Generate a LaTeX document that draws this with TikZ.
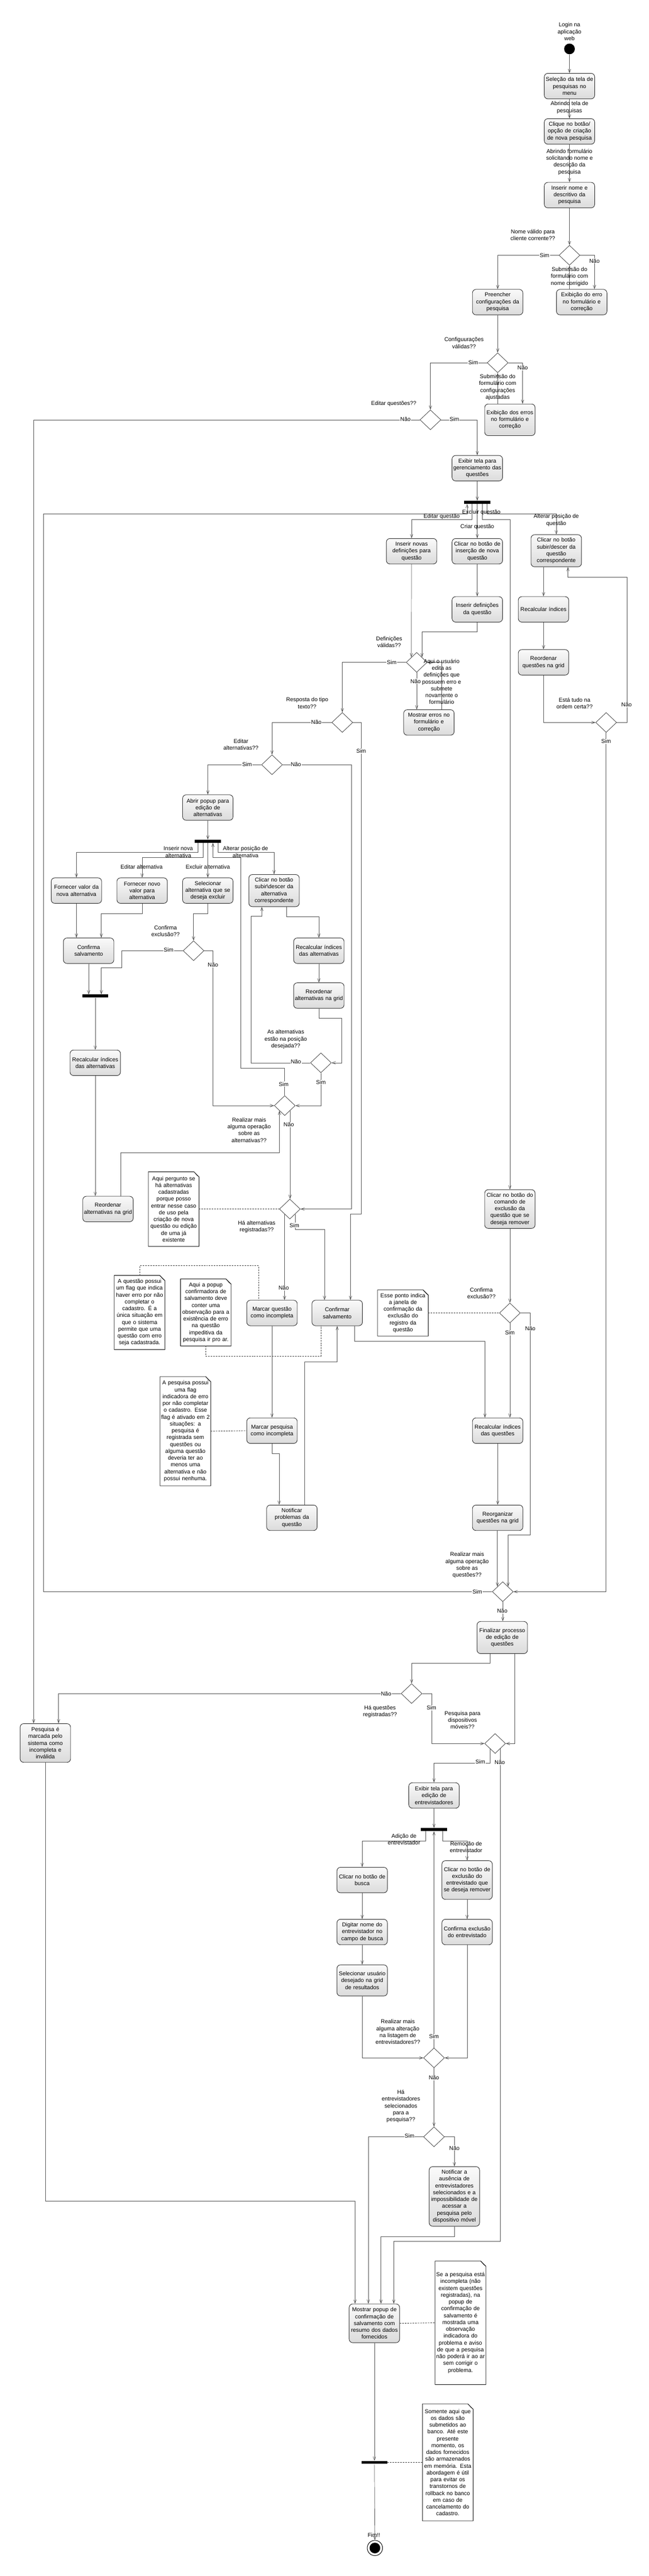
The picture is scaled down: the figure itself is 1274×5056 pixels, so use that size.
\nonstopmode
\documentclass[tikz,border=0pt]{standalone}
\usepackage{fontspec}
\setmainfont{Liberation Sans}
\usetikzlibrary{shapes.geometric,arrows.meta}
\newcommand\dfont{\fontsize{11}{13.4}\selectfont}
\newcommand\mynote[1]{%
  \draw[line width=0.8pt] (#1.north west) -- ([xshift=-10pt]#1.north east) -- ([yshift=-10pt]#1.north east) -- (#1.south east) -- (#1.south west) -- cycle;
  \draw[line width=0.6pt] ([xshift=-10pt]#1.north east) -- ([xshift=-4pt,yshift=-7pt]#1.north east) -- ([yshift=-10pt]#1.north east);}
\tikzset{
 act/.style={rectangle, rounded corners=7pt, draw=black!85, line width=0.9pt, top color=black!2, bottom color=black!14, minimum width=99pt, minimum height=50pt, text width=97pt, align=center, inner sep=1pt, font=\dfont},
 dec/.style={diamond, draw=black!85, line width=0.7pt, fill=white, minimum width=41pt, minimum height=39pt, inner sep=0pt},
 forkbar/.style={rectangle, fill=black, minimum width=51pt, minimum height=6pt, inner sep=0pt},
 lbl/.style={align=center, inner sep=1pt, font=\dfont},
 yn/.style={inner sep=1pt, fill=white, font=\dfont},
 notebox/.style={rectangle, minimum width=99pt, text width=97pt, align=center, inner sep=1pt, font=\dfont, fill=white},
 flow/.style={draw=black!70, line width=0.7pt, -{Straight Barb[length=7pt,width=5pt]}},
 anchorline/.style={draw=black!80, line width=0.9pt, densely dashed},
}
\begin{document}
\begin{tikzpicture}[x=1pt,y=-1pt]
\useasboundingbox (0,0) rectangle (1274,5056);
% ---------- nodes ----------
\node[lbl] (login) at (1118,62) {Login na\\aplicação\\web};
\node[circle, fill=black, minimum size=21pt, inner sep=0pt] (ini) at (1118,96) {};
\node[act] (a1) at (1118,169) {Seleção da tela de\\pesquisas no\\menu};
\node[act] (a2) at (1118,258) {Clique no botão/\\opção de criação\\de nova pesquisa};
\node[act] (a3) at (1118,383) {Inserir nome e\\descritivo da\\pesquisa};
\node[dec] (d1) at (1118,501) {};
\node[act] (a4) at (977,593) {Preencher\\configurações da\\pesquisa};
\node[act] (a5) at (1142,593) {Exibição do erro\\no formulário e\\correção};
\node[dec] (d2) at (977,712) {};
\node[act, minimum height=62pt] (a6) at (1001,824) {Exibição dos erros\\no formulário e\\correção};
\node[dec] (d3) at (845,824) {};
\node[act] (a7) at (937,919) {Exibir tela para\\gerenciamento das\\questões};
\node[forkbar] (f1) at (937,986) {};
\node[act] (a8) at (808,1082) {Inserir novas\\definições para\\questão};
\node[act] (a9) at (937,1082) {Clicar no botão de\\inserção de nova\\questão};
\node[act, minimum height=63pt] (a10) at (1092,1081) {Clicar no botão\\subir/descer da\\questão\\correspondente};
\node[act] (a11) at (937,1196) {Inserir definições\\da questão};
\node[act] (a12) at (1067,1196) {Recalcular índices};
\node[dec] (d4) at (818,1300) {};
\node[act] (a13) at (842,1418) {Mostrar erros no\\formulário e\\correção};
\node[act] (a14) at (1067,1300) {Reordenar\\questões na grid};
\node[dec] (d5) at (672,1418) {};
\node[dec] (dord) at (1190,1418) {};
\node[dec] (d6) at (534,1501) {};
\node[act] (a15) at (408,1585) {Abrir popup para\\edição de\\alternativas};
\node[forkbar] (f2) at (408,1651) {};
\node[act] (a16) at (150,1748) {Fornecer valor da\\nova alternativa};
\node[act] (a17) at (279,1748) {Fornecer novo\\valor para\\alternativa};
\node[act] (a18) at (408,1748) {Selecionar\\alternativa que se\\deseja excluir};
\node[act, minimum height=63pt] (a19) at (538,1748) {Clicar no botão\\subir\textbackslash descer da\\alternativa\\correspondente};
\node[act] (a20) at (174,1866) {Confirma\\salvamento};
\node[dec] (d7) at (380,1866) {};
\node[act] (a21) at (626,1866) {Recalcular índices\\das alternativas};
\node[forkbar] (f3) at (187,1955) {};
\node[act] (a22) at (626,1954) {Reordenar\\alternativas na grid};
\node[act] (a23) at (187,2086) {Recalcular índices\\das alternativas};
\node[dec] (d9) at (630,2086) {};
\node[dec] (d8) at (559,2170) {};
\node[act] (a24) at (212,2373) {Reordenar\\alternativas na grid};
\node[dec] (dha) at (569,2373) {};
\node[act, minimum height=76pt] (a25) at (1001,2373) {Clicar no botão do\\comando de\\exclusão da\\questão que se\\deseja remover};
\node[act] (a26) at (534,2577) {Marcar questão\\como incompleta};
\node[act] (a27) at (662,2577) {Confirmar\\salvamento};
\node[dec] (d10) at (1001,2577) {};
\node[act] (a28) at (534,2808) {Marcar pesquisa\\como incompleta};
\node[act] (a29) at (977,2808) {Recalcular índices\\das questões};
\node[act] (a30) at (573,2979) {Notificar\\problemas da\\questão};
\node[act] (a31) at (977,2979) {Reorganizar\\questões na grid};
\node[dec] (d11) at (987,3124) {};
\node[act, minimum height=63pt] (a32) at (986,3214) {Finalizar processo\\de edição de\\questões};
\node[dec] (d12) at (808,3324) {};
\node[act, minimum height=76pt] (a33) at (89,3421) {Pesquisa é\\marcada pelo\\sistema como\\incompleta e\\inválida};
\node[dec] (d13) at (972,3422) {};
\node[act] (a34) at (852,3524) {Exibir tela para\\edição de\\entrevistadores};
\node[forkbar] (f4) at (852,3591) {};
\node[act] (a35) at (711,3690) {Clicar no botão de\\busca};
\node[act, minimum height=76pt] (a36) at (917,3690) {Clicar no botão de\\exclusão do\\entrevistado que\\se deseja remover};
\node[act] (a37) at (711,3792) {Digitar nome do\\entrevistador no\\campo de busca};
\node[act] (a38) at (917,3792) {Confirma exclusão\\do entrevistado};
\node[act, minimum height=61pt] (a39) at (711,3887) {Selecionar usuário\\desejado na grid\\de resultados};
\node[dec] (d14) at (852,4039) {};
\node[dec] (d15) at (852,4194) {};
\node[act, minimum height=117pt] (a40) at (892,4311) {Notificar a\\ausência de\\entrevistadores\\selecionados e a\\impossibilidade de\\acessar a\\pesquisa pelo\\dispositivo móvel};
\node[act, minimum height=76pt] (a41) at (735,4560) {Mostrar popup de\\confirmação de\\salvamento com\\resumo dos dados\\fornecidos};
\node[forkbar] (f5) at (735,4833) {};
\node[circle, draw, line width=1pt, minimum size=30pt, inner sep=0pt] (fim) at (736,5001) {};
\node[circle, fill=black, minimum size=21pt, inner sep=0pt] (fimin) at (736,5001) {};
% ---------- notes ----------
\node[notebox, minimum height=146pt] (n1) at (341,2373) {Aqui pergunto se\\há alternativas\\cadastradas\\porque posso\\entrar nesse caso\\de uso pela\\criação de nova\\questão ou edição\\de uma já\\existente};
\mynote{n1}
\node[notebox, minimum height=145pt] (n2) at (274,2576) {A questão possui\\um flag que indica\\haver erro por não\\completar o\\cadastro. É a\\única situação em\\que o sistema\\permite que uma\\questão com erro\\seja cadastrada.};
\mynote{n2}
\node[notebox, minimum height=131pt] (n3) at (404,2576) {Aqui a popup\\confirmadora de\\salvamento deve\\conter uma\\observação para a\\existência de erro\\na questão\\impeditiva da\\pesquisa ir pro ar.};
\mynote{n3}
\node[notebox, minimum height=214pt] (n4) at (364,2809) {A pesquisa possui\\uma flag\\indicadora de erro\\por não completar\\o cadastro. Esse\\flag é ativado em 2\\situações: a\\pesquisa é\\registrada sem\\questões ou\\alguma questão\\deveria ter ao\\menos uma\\alternativa e não\\possui nenhuma.};
\mynote{n4}
\node[notebox, minimum height=90pt] (n5) at (791,2577) {Esse ponto indica\\a janela de\\confirmação da\\exclusão do\\registro da\\questão};
\mynote{n5}
\node[notebox, minimum height=242pt] (n6) at (904,4559) {Se a pesquisa está\\incompleta (não\\existem questões\\registradas), na\\popup de\\confirmação de\\salvamento é\\mostrada uma\\observação\\indicadora do\\problema e aviso\\de que a pesquisa\\não poderá ir ao ar\\sem corrigir o\\problema.};
\mynote{n6}
\node[notebox, minimum height=229pt] (n7) at (879,4833) {Somente aqui que\\os dados são\\submetidos ao\\banco. Até este\\presente\\momento, os\\dados fornecidos\\são armazenados\\em memória. Esta\\abordagem é útil\\para evitar os\\transtornos de\\rollback no banco\\em caso de\\cancelamento do\\cadastro.};
\mynote{n7}
% ---------- connectors ----------
\draw[flow] (ini) -- (a1);
\draw[flow] (a1) -- (a2);
\draw[flow] (a2) -- (a3);
\draw[flow] (a3) -- (d1);
\draw[flow] (d1.west) -| (a4.north);
\draw[flow] (d1.east) -| ([xshift=25pt]a5.north);
\draw[flow] ([xshift=-24pt]a5.north) -- (d1.south);
\draw[flow] (a4) -- (d2);
\draw[flow] (d2.west) -| (d3.north);
\draw[flow] (d2.east) -| ([xshift=25pt]a6.north);
\draw[flow] ([xshift=-24pt]a6.north) -- (d2.south);
\draw[flow] (d3.west) -| ([xshift=-23pt]a33.north);
\draw[flow] (d3.east) -| (a7.north);
\draw[flow] (a7) -- (f1);
\draw[flow] ([xshift=-10pt]f1.south) -- ++(0,30) -| (a8.north);
\draw[flow] (f1.south) -- (a9.north);
\draw[flow] ([xshift=10pt]f1.south) -- ++(0,30) -| (a25.north);
\draw[flow] ([xshift=19pt]f1.south) -- ++(0,19) -| (a10.north);
\coordinate (lp) at (85,1008);
\draw[flow] (d11.west) -| (lp) -| ([xshift=-20pt]f1.south);
\draw[flow] (a9) -- (a11);
\draw[flow] (a8.south) -- (d4.north west);
\draw[flow] (a11.south) -- ++(0,19) -| (d4.north east);
\draw[flow] (a10.south -| a12.north) -- (a12.north);
\draw[flow] (a12) -- (a14);
\draw[flow] (a14.south) |- (dord.west);
\draw[flow] (dord.east) -- ++(20,0) |- ([xshift=23pt,yshift=-20pt]a10.south) -- ([xshift=23pt]a10.south);
\draw[flow] (dord.south) |- (d11.east);
\draw[flow] (d4.west) -| (d5.north);
\draw[flow] (d4.south) -- (d4.south |- a13.north);
\draw[flow] ([xshift=25pt]a13.north) |- (d4.east);
\draw[flow] (d5.west) -| (d6.north);
\draw[flow] (d5.east) -| ([xshift=47pt,yshift=169pt]a27.north) -| ([xshift=26pt]a27.north);
\draw[flow] (d6.west) -| (a15.north);
\draw[flow] (d6.east) -| ([xshift=100.5pt]dha.east) -- (dha.east);
\draw[flow] (a15) -- (f2);
\draw[flow] ([xshift=-19pt]f2.south) -- ++(0,19) -| (a16.north);
\draw[flow] ([xshift=-9pt]f2.south) -- ++(0,29) -| (a17.north);
\draw[flow] (f2.south) -- (a18.north);
\draw[flow] ([xshift=20pt]f2.south) -- ++(0,19) -| (a19.north);
\draw[flow] (d8.north) |- ([xshift=65pt,yshift=-442pt]f2.south) |- ([xshift=10pt,yshift=-29pt]f2.south) -- ([xshift=10pt]f2.south);
\draw[flow] (a16.south) -- (a16.south |- a20.north);
\draw[flow] (a17.south) -- ++(0,20) -| ([xshift=25pt]a20.north);
\draw[flow] (a18.south) -- ++(0,20) -| (d7.north);
\draw[flow] (d7.west) -| ([xshift=52pt,yshift=52pt]f3.north) -| ([xshift=12pt]f3.north);
\draw[flow] (a20.south) -- (a20.south |- f3.north);
\draw[flow] (f3) -- (a23);
\draw[flow] (d7.east) -- ++(17.5,0) |- (d8.west);
\draw[flow] ([xshift=25pt]a19.south) -- ++(0,19) -| (a21.north);
\draw[flow] (a21) -- (a22);
\draw[flow] (a22.south) -- ++(0,19) -| ([xshift=19.5pt]d9.east) -- (d9.east);
\draw[flow] (d9.west) -| ([xshift=-45pt,yshift=-18.5pt]a19.south) -| ([xshift=-24pt]a19.south);
\draw[flow] (d9.south) |- (d8.east);
\draw[flow] (a23.south) -- (a23.south |- a24.north);
\draw[flow] ([xshift=25pt]a24.north) |- ([yshift=-82pt]d8.south west) -- (d8.south west);
\draw[flow] (d8.south east) -- (d8.south east |- dha.north);
\draw[flow] (dha.south east) -- ++(0,30) -| ([xshift=-25pt]a27.north);
\draw[flow] (dha.south west) -- (dha.south west |- a26.north);
\draw[anchorline] (n1.east) -- (dha.west);
\draw[anchorline] (n2.north) -- ++(0,-19) -| ([xshift=-26pt]a26.north);
\draw[anchorline] (n3.south) -- ++(0,20) -| ([xshift=-32pt]a27.south);
\draw[flow] (a26) -- (a28);
\draw[anchorline] (n4.east) -- (a28.west);
\draw[flow] (a28.south) -- ++(0,19) -| ([xshift=-25pt]a30.north);
\draw[flow] ([xshift=25pt]a30.north) |- ([yshift=-70pt]a27.south) -- (a27.south);
\draw[flow] ([xshift=34pt]a27.south) -- ++(0,30) -| ([xshift=-25pt]a29.north);
\draw[flow] (a25) -- (d10);
\draw[anchorline] (n5.east) -- (d10.west);
\draw[flow] (d10.south) -- ([xshift=24pt]a29.north);
\draw[flow] (d10.east) -- ++(19.5,0) |- ([yshift=101pt]d11.north east) -- (d11.north east);
\draw[flow] (a29) -- (a31);
\draw[flow] (a31.south -| d11.north west) -- (d11.north west);
\draw[flow] (d11.south) -- (d11.south |- a32.north);
\draw[flow] ([xshift=-24pt]a32.south) -- ++(0,19) -| (d12.north);
\draw[flow] ([xshift=25pt]a32.south) |- (d13.east);
\draw[flow] (d12.west) -| ([xshift=26pt]a33.north);
\draw[flow] (d12.east) -- ++(18.5,0) |- (d13.west);
\draw[flow] (d13.south west) -- ++(0,29) -| (a34.north);
\draw[flow] (d13.south east) |- ([xshift=38pt,yshift=123pt]a41.north) -- ([xshift=38pt]a41.north);
\draw[flow] (a33.south) |- ([xshift=-38pt,yshift=201pt]a41.north) -- ([xshift=-38pt]a41.north);
\draw[flow] (a34) -- (f4);
\draw[flow] ([xshift=-16pt]f4.south) -- ++(0,19) -| (a35.north);
\draw[flow] ([xshift=17pt]f4.south) -- ++(0,19) -| (a36.north);
\draw[flow] (a35) -- (a37);
\draw[flow] (a37) -- (a39);
\draw[flow] (a36) -- (a38);
\draw[flow] (a39.south) |- (d14.west);
\draw[flow] (a38.south) |- (d14.east);
\draw[flow] (d14.north) -- (f4.south);
\draw[flow] (d14.south) -- (d15.north);
\draw[flow] (d15.west) -| ([xshift=-12pt]a41.north);
\draw[flow] (d15.east) -| (a40.north);
\draw[flow] (a40.south) -- ++(0,20) -| ([xshift=13pt]a41.north);
\draw[anchorline] (a41.east) -- (n6.west);
\draw[flow] (a41) -- (f5);
\draw[anchorline] (f5.east) -- (n7.west);
\draw[flow] (f5) -- (fim);
% ---------- labels ----------
\node[lbl] (t1) at (1118,211) {Abrindo tela de\\pesquisas};
\node[lbl] (t2) at (1118,318) {Abrindo formulário\\solicitando nome e\\descrição da\\pesquisa};
\node[lbl] (t3) at (1046,461) {Nome válido para\\cliente corrente??};
\node[yn] (t4) at (1069,501) {Sim};
\node[yn] (t5) at (1167,512) {Não};
\node[lbl] (t6) at (1118,543) {Submissão do\\formulário com\\nome corrigido};
\node[lbl] (t7) at (911,673) {Configuurações\\válidas??};
\node[yn] (t8) at (929,711) {Sim};
\node[yn] (t9) at (1026,722) {Não};
\node[lbl] (t10) at (977,760) {Submissão do\\formulário com\\configurações\\ajustadas};
\node[lbl] (t11) at (773,792) {Editar questões??};
\node[yn] (t12) at (796,823) {Não};
\node[yn] (t13) at (892,823) {Sim};
\node[lbl] (t14) at (867,1014) {Editar questão};
\node[lbl] (t15) at (937,1034) {Criar questão};
\node[lbl] (t16) at (945,1006) {Excluir questão};
\node[lbl] (t17) at (1092,1021) {Alterar posição de\\questão};
\node[lbl] (t18) at (764,1260) {Definições\\válidas??};
\node[yn] (t19) at (769,1300) {Sim};
\node[yn] (t20) at (816,1337) {Não};
\node[lbl] (t21) at (867,1338) {Aqui o usuário\\edita as\\definições que\\possuem erro e\\submete\\novamente o\\formulário};
\node[lbl] (t22) at (603,1380) {Resposta do tipo\\texto??};
\node[yn] (t23) at (621,1417) {Não};
\node[yn] (t24) at (709,1474) {Sim};
\node[lbl] (t25) at (1128,1380) {Está tudo na\\ordem certa??};
\node[yn] (t26) at (1230,1383) {Não};
\node[yn] (t27) at (1190,1455) {Sim};
\node[lbl] (t28) at (473,1461) {Editar\\alternativas??};
\node[yn] (t29) at (485,1500) {Sim};
\node[yn] (t30) at (581,1500) {Não};
\node[lbl] (t31) at (350,1672) {Inserir nova\\alternativa};
\node[lbl] (t32) at (482,1672) {Alterar posição de\\alternativa};
\node[lbl] (t33) at (278,1701) {Editar alternativa};
\node[lbl] (t34) at (408,1701) {Excluir alternativa};
\node[lbl] (t35) at (325,1827) {Confirma\\exclusão??};
\node[yn] (t36) at (331,1864) {Sim};
\node[yn] (t37) at (418,1894) {Não};
\node[lbl] (t38) at (561,2040) {As alternativas\\estão na posição\\desejada??};
\node[yn] (t39) at (581,2084) {Não};
\node[yn] (t40) at (630,2124) {Sim};
\node[yn] (t41) at (557,2128) {Sim};
\node[lbl] (t42) at (489,2218) {Realizar mais\\alguma operação\\sobre as\\alternativas??};
\node[yn] (t43) at (567,2207) {Não};
\node[lbl] (t44) at (504,2408) {Há alternativas\\registradas??};
\node[yn] (t45) at (578,2405) {Sim};
\node[yn] (t46) at (557,2528) {Não};
\node[lbl] (t47) at (945,2538) {Confirma\\exclusão??};
\node[yn] (t48) at (1001,2616) {Sim};
\node[yn] (t49) at (1041,2607) {Não};
\node[lbl] (t50) at (917,3072) {Realizar mais\\alguma operação\\sobre as\\questões??};
\node[yn] (t51) at (937,3124) {Sim};
\node[yn] (t52) at (986,3162) {Não};
\node[lbl] (t53) at (746,3359) {Há questões\\registradas??};
\node[yn] (t54) at (758,3324) {Não};
\node[yn] (t55) at (847,3352) {Sim};
\node[lbl] (t56) at (908,3376) {Pesquisa para\\dispositivos\\móveis??};
\node[yn] (t57) at (943,3458) {Sim};
\node[yn] (t58) at (981,3459) {Não};
\node[lbl] (t59) at (793,3610) {Adição de\\entrevistador};
\node[lbl] (t60) at (915,3625) {Remoção de\\entrevistador};
\node[lbl] (t61) at (781,3988) {Realizar mais\\alguma alteração\\na listagem de\\entrevistadores??};
\node[yn] (t62) at (852,3997) {Sim};
\node[yn] (t63) at (852,4078) {Não};
\node[lbl] (t64) at (787,4134) {Há\\entrevistadores\\selecionados\\para a\\pesquisa??};
\node[yn] (t65) at (804,4192) {Sim};
\node[yn] (t66) at (892,4216) {Não};
\node[lbl] (t67) at (734,4976) {Fim!!};
\end{tikzpicture}
\end{document}
